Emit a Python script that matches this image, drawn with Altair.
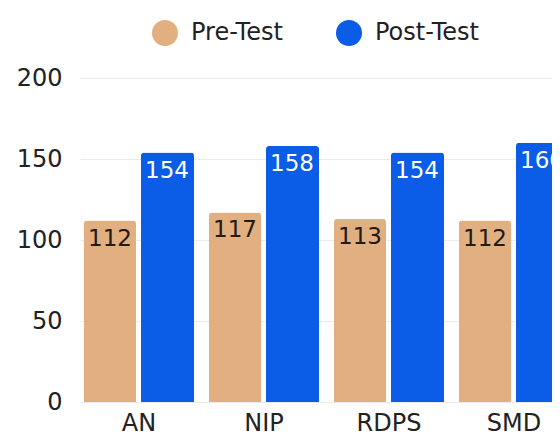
import altair as alt
import pandas as pd

categories = ["AN", "NIP", "RDPS", "SMD"]
pre_test = [112, 117, 113, 112]
post_test = [154, 158, 154, 160]
series = ["Pre-Test", "Post-Test"]
colors = ["#E2AF80", "#0B5CE6"]

rows = []
for c, a, b in zip(categories, pre_test, post_test):
    rows.append({"cat": c, "series": "Pre-Test", "value": a})
    rows.append({"cat": c, "series": "Post-Test", "value": b})
df = pd.DataFrame(rows)

FONT = "DejaVu Sans"
XSCALE = alt.Scale(range=[0, 493], paddingInner=0.12, paddingOuter=0.032)

x_enc = alt.X(
    "cat:N", sort=categories, title=None, scale=XSCALE,
    axis=alt.Axis(labelAngle=0, domain=False, ticks=False, grid=False, labelPadding=9,
                  labelFontSize=24, labelColor="#222222", labelFont=FONT),
)
y_enc = alt.Y(
    "value:Q", title=None, scale=alt.Scale(domain=[0, 200]),
    axis=alt.Axis(values=[0, 50, 100, 150, 200], domain=False, ticks=False,
                  labelPadding=18, labelFontSize=24, labelColor="#222222",
                  labelFont=FONT, gridColor="#ebebeb", gridWidth=1.2),
)
color_enc = alt.Color(
    "series:N", sort=series,
    scale=alt.Scale(domain=series, range=colors),
    legend=alt.Legend(
        title=None, orient="none", direction="horizontal",
        legendX=72, legendY=-58, symbolType="circle", symbolSize=676,
        symbolStrokeWidth=0, labelFontSize=24, labelFont=FONT,
        labelColor="#222222", labelOffset=13, columnPadding=53,
    ),
)

base = alt.Chart(df)

pre_bars = base.transform_filter(alt.datum.series == "Pre-Test").mark_bar(
    width=52, xOffset=-29, cornerRadiusTopLeft=3, cornerRadiusTopRight=3
).encode(x=x_enc, y=y_enc, color=color_enc)

post_bars = base.transform_filter(alt.datum.series == "Post-Test").mark_bar(
    width=53, xOffset=28.5, cornerRadiusTopLeft=3, cornerRadiusTopRight=3
).encode(x=x_enc, y=y_enc, color=color_enc)

pre_labels = base.transform_filter(alt.datum.series == "Pre-Test").mark_text(
    align="left", baseline="top", dx=-51, dy=7, fontSize=23, font=FONT,
    color="#211a15"
).encode(x=x_enc, y=y_enc, text=alt.Text("value:Q"))

post_labels = base.transform_filter(alt.datum.series == "Post-Test").mark_text(
    align="left", baseline="top", dx=6, dy=7, fontSize=23, font=FONT,
    color="#ffffff"
).encode(x=x_enc, y=y_enc, text=alt.Text("value:Q"))

chart = alt.layer(pre_bars, post_bars, pre_labels, post_labels).properties(
    width=472, height=324,
    autosize=alt.AutoSizeParams(type="none"),
    padding={"left": 72, "top": 70, "right": 0, "bottom": 33},
).configure(background="white").configure_view(stroke=None)

chart.save("out.html", embed_options={"renderer": "svg", "actions": False})
